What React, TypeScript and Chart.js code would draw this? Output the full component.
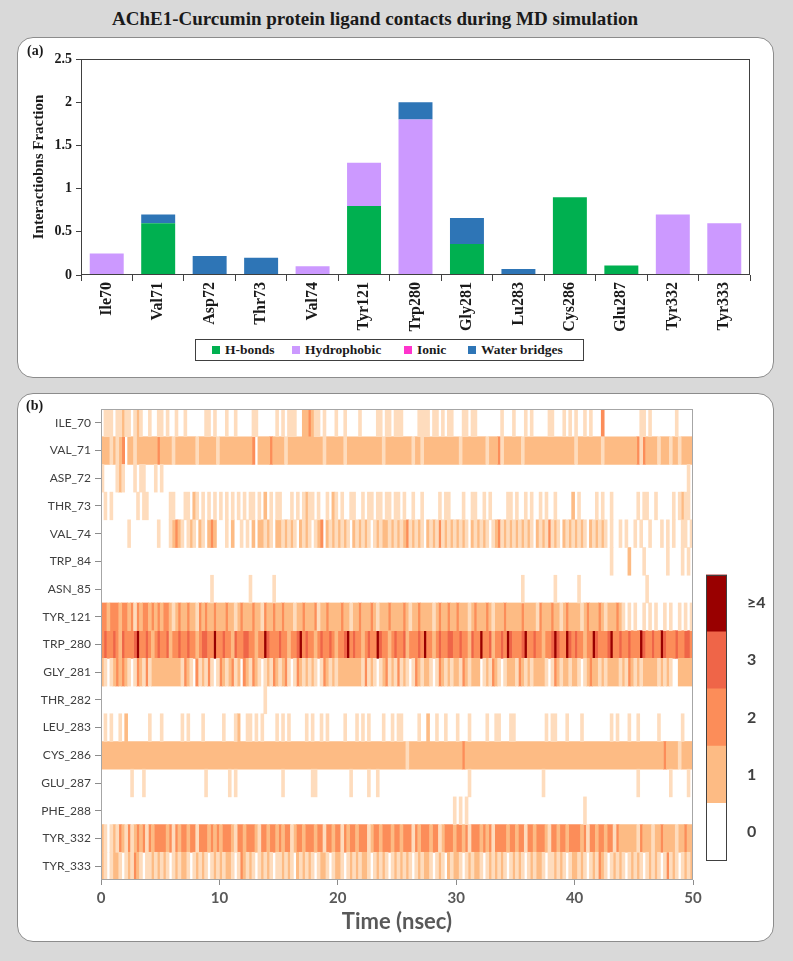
import React, { useEffect, useRef } from 'react';
import { Chart, registerables } from 'chart.js';

Chart.register(...registerables);

// ---------- Panel (a): stacked bar data ----------
const residues = ['Ile70', 'Val71', 'Asp72', 'Thr73', 'Val74', 'Tyr121', 'Trp280', 'Gly281', 'Lu283', 'Cys286', 'Glu287', 'Tyr332', 'Tyr333'];
const hBonds = [0, 0.6, 0, 0, 0, 0.8, 0, 0.36, 0, 0.9, 0.11, 0, 0];
const hydrophobic = [0.25, 0, 0, 0, 0.1, 0.5, 1.8, 0, 0, 0, 0, 0.7, 0.6];
const ionic = [0, 0, 0, 0, 0, 0, 0, 0, 0, 0, 0, 0, 0];
const waterBridges = [0, 0.1, 0.22, 0.2, 0, 0, 0.2, 0.3, 0.07, 0, 0, 0, 0];
const seriesNames = ['H-bonds', 'Hydrophobic', 'Ionic', 'Water bridges'];
const seriesColors = ['#00b050', '#cc99ff', '#ff33cc', '#2e75b6'];

// ---------- Panel (b): contact timeline (0.25 ns bins, 20 bins per chunk) ----------
// '0' none, 'p' faint single contact, '1'..'4' number of contacts
const contactRows = ['ILE_70', 'VAL_71', 'ASP_72', 'THR_73', 'VAL_74', 'TRP_84', 'ASN_85', 'TYR_121', 'TRP_280', 'GLY_281', 'THR_282', 'LEU_283', 'CYS_286', 'GLU_287', 'PHE_288', 'TYR_332', 'TYR_333'];
const EMPTY = '00000000000000000000';
const FULL = '11111111111111111111';
const ile70 = ['0ppp0pp1pp0p1p00p00p', 'p0p00p00p000000pp0p0', '00p00p00000pp000000p', '0p0ppp001121pp0p000p', '00p0000p00000pp0pp0p', 'pp00000pppp0pp0p0pp0', '00pp0pp00000000p000p', '000p0p00000pp000p0p0', 'p00p0p00020000000000', '00pp0p00000000p00000'];
const val71 = ['111p1p12011p11111112', '1111p1111111p111111p', '11111111111201111211', '11p111111111111p1111', '11p111111111111p1111', '11111p11p11111111111', '1p11111111p1112p1111', '11p11111111111111111', 'p11111111p1111111111', '12p21111p111p11p1111'];
const asp72 = ['p0000p1p000p0pp000p0', 'p0000000000000000000', EMPTY, EMPTY, EMPTY, EMPTY, EMPTY, EMPTY, EMPTY, '000000000000000000p0'];
const thr73 = ['0p0p00000000p0pp0000', '000pp000pp01p0p0p0p0', 'p0p0p0p0p0pp0p010p0p', 'p000p0p0p1pp0p00p01p', '0p00pp00p0pp0pp0pp0p', 'p0p00p00p00000p0pp00', '00p00pp00p0p00000pp0', 'p00p0p00p0p00p000001', '0p00000p0p00p0000000', '0p0pp00p00000p0p1pp0'];
const val74 = ['000000000p000000000p', '000p121p0p1p01p01210', '00p0100p0p01011p1p01', '1p1p1p01p1p0p1201p1p', '1p1p01p1p1p0p1p11p1p', '1p12p1p1p01p1p2p1p1p', '1p1p01p1p1p0p12p1p1p', '1p1p1p01p1p2p1p01p1p', '1p1p01p1p1p0p00p0p00', 'p0p00p000p0p0p00pp0p'];
const trp84 = [EMPTY, EMPTY, EMPTY, EMPTY, EMPTY, EMPTY, EMPTY, EMPTY, '000000000000p0000010', '000p0000000p0000p0p0'];
const asn85 = [EMPTY, '00000000000000000p00', '0000000000p0000000p0', EMPTY, EMPTY, EMPTY, EMPTY, '00p0000000000p000000', '0p000000000000000000', '0000p000000000000000'];
const tyr121 = ['22122212212p21221212', '1221p1211211p2121121', '11211p12111211p21121', '12111p1121112p112111', '1211p11211121p111211', '1121p1121111p1211211', '2111p1211121p1112111', '1121111p2111211p1211', '11p1211121p11121p0p0', 'p00p0p0p00p0p00p0p0p'];
const trp280 = ['23223213222342232123', '22312232232212332242', '23221322332212243222', '32212234232212322321', '22342322123224322123', '22312223242212322332', '23221322422312232432', '22342232212234322432', '32212243222342232232', '22432232243222322332'];
const gly281 = ['1p0p12121p0p21p2p111', '1111111p21p02p1p2p0p', '21p12p1021p21p0p1p21', 'p12p0p21p1p1p0p21p1p', '11111111p2p1p0p12p1p', '2p1p0p21p11p0p21p1p1', '1p21p1110p1p21p0p111', 'p21p1p1111p0p21p11p1', '1p0p1211p1p1111p1p21', 'p1p11111p1p1p0011111'];
const thr282 = [EMPTY, EMPTY, '000000000000000p0000', EMPTY, EMPTY, EMPTY, EMPTY, EMPTY, EMPTY, EMPTY];
const leu283 = ['0p0p00p010000000p000', 'p000000p0p0000p00000', '0p000p100pp0p0p0000p', '0p0p00000p0p00p0p000', '00p000p0p0p0000p00p0', 'pp00000p00100p00p000', 'p000p00000p00pp000pp', '0000000000p0pp000p00', '00p000000000p0p000p0', '0p000000p0000000p000'];
const cys286 = [FULL, FULL, FULL, FULL, FULL, '111p1111111111111111', '11211111111111111111', FULL, FULL, '111111111121111p1111'];
const glu287 = ['0000000000p000p00000', '000000000000000p0000', '000p0p00000000000000', '0p000000000pp0000000', '0000p00000p00p000000', EMPTY, '0000p000000000000000', '000000000p0000000000', EMPTY, '0p0000000000p00000p0'];
const phe288 = [EMPTY, EMPTY, EMPTY, EMPTY, EMPTY, '0000000000000000000p', '0p0p0000000000000000', EMPTY, '000p0000000000000000', EMPTY];
const tyr332 = ['1p0p1p21p2p1212p2122', '2212p2122122p2221212', '12221p2212221p221221', '2122p1221222122p2212', '2p21221222p122122212', '21222p21222122p12221', '2212p2221212p2222122', '122p2212221p22122122', '2212p22122122p211111', '1p2111p1121111p11211'];
const tyr333 = ['1p0p11p0p1p21p0pp1p1', 'p1p0p1p11p0p1p1p0p1p', '1p11p0p21p1p0p1p1p0p', 'p1p1p01p1p1p0p11p0p1', '1p0p1p1p11p0p1p1p0p1', 'p1p1p0p1p11p0p1p01p1', '1p0p1p11p0p1p1p1p0p1', 'p1p0p1p11p0pp1p1p0p1', '1p1p0p1p21p0p1p1p0p1', 'p1p0p1p1p0p2p1p0p1p1'];
const contactBins = [ile70, val71, asp72, thr73, val74, trp84, asn85, tyr121, trp280, gly281, thr282, leu283, cys286, glu287, phe288, tyr332, tyr333];
const binNs = 0.25;
const levelKeys = ['p', '1', '2', '3', '4'];
const levelColors = ['#fedcbd', '#fdbb84', '#fc8d59', '#ef6548', '#990000'];

// ---------- colour bar ----------
const colorbarLabels = ['0', '1', '2', '3', '≥4'];
const colorbarColors = ['#ffffff', '#fdbb84', '#fc8d59', '#ef6548', '#990000'];
const colorbarSpan = [1];

const SERIF = "'Liberation Serif', 'DejaVu Serif', serif";
const SANS = "Lato, 'Open Sans', sans-serif";

function buildSegments(level: string) {
  const out: { x: number[]; y: string }[] = [];
  contactRows.forEach((row, r) => {
    const s = contactBins[r].join('');
    let i = 0;
    while (i < s.length) {
      if (s[i] === level) {
        let j = i;
        while (j < s.length && s[j] === level) j++;
        out.push({ x: [i * binNs, j * binNs], y: row });
        i = j;
      } else i++;
    }
  });
  return out;
}

function framePlugin(id: string, color: string) {
  return {
    id,
    afterDatasetsDraw(chart: any) {
      const { ctx, chartArea: a } = chart;
      ctx.save();
      ctx.strokeStyle = color;
      ctx.lineWidth = 1;
      ctx.strokeRect(Math.round(a.left) + 0.5, Math.round(a.top) + 0.5, Math.round(a.right - a.left) - 1, Math.round(a.bottom - a.top) - 1);
      ctx.restore();
    },
  };
}

export default function App() {
  const refA = useRef<HTMLCanvasElement>(null);
  const refB = useRef<HTMLCanvasElement>(null);
  const refC = useRef<HTMLCanvasElement>(null);

  useEffect(() => {
    const seriesData = [hBonds, hydrophobic, ionic, waterBridges];
    const chartA = new Chart(refA.current as HTMLCanvasElement, {
      type: 'bar',
      data: {
        labels: residues,
        datasets: seriesNames.map((name, i) => ({
          label: name,
          data: seriesData[i],
          backgroundColor: seriesColors[i],
          borderWidth: 0,
          barPercentage: 0.66,
          categoryPercentage: 1,
        })),
      },
      options: {
        animation: false,
        responsive: false,
        layout: { padding: { top: 22, right: 24, left: 0, bottom: 0 } },
        plugins: { legend: { display: false }, tooltip: { enabled: false } },
        scales: {
          x: {
            stacked: true,
            grid: { drawOnChartArea: false, drawTicks: true, tickLength: 6, color: '#404040', offset: true },
            border: { display: false },
            ticks: { minRotation: 90, maxRotation: 90, autoSkip: false, padding: 1, color: '#1a1a1a', font: { family: SERIF, weight: 'bold', size: 16 } },
            afterFit: (s: any) => { s.height = 103; },
          },
          y: {
            stacked: true,
            min: 0,
            max: 2.5,
            ticks: { stepSize: 0.5, padding: 4, color: '#1a1a1a', font: { family: SERIF, weight: 'bold', size: 14 }, callback: (v: any) => String(v) },
            grid: { drawOnChartArea: false, tickLength: 5, color: '#404040' },
            border: { display: false },
            title: { display: true, text: 'Interactiobns Fraction', color: '#1a1a1a', font: { family: SERIF, weight: 'bold', size: 15 }, padding: { top: 13, bottom: 0 } },
            afterFit: (s: any) => { s.width = 64; },
          },
        },
      } as any,
      plugins: [framePlugin('frameA', '#404040')],
    });

    const chartB = new Chart(refB.current as HTMLCanvasElement, {
      type: 'bar',
      data: {
        labels: contactRows,
        datasets: levelKeys.map((k, i) => ({
          label: k,
          data: buildSegments(k) as any,
          backgroundColor: levelColors[i],
          borderWidth: 0,
          grouped: false,
          barPercentage: 1,
          categoryPercentage: 1,
        })),
      },
      options: {
        indexAxis: 'y',
        animation: false,
        responsive: false,
        layout: { padding: { top: 16, right: 81, left: 0, bottom: 0 } },
        plugins: { legend: { display: false }, tooltip: { enabled: false } },
        scales: {
          x: {
            type: 'linear',
            min: 0,
            max: 50,
            ticks: { stepSize: 10, padding: 4, color: '#595959', font: { family: SANS, weight: 'bold', size: 15 } },
            grid: { drawOnChartArea: false, tickLength: 5, color: '#8c8c8c' },
            border: { display: false },
            title: { display: true, text: 'Time (nsec)', color: '#595959', font: { family: SANS, weight: 'bold', size: 22 }, padding: { top: 0, bottom: 7 } },
            afterFit: (s: any) => { s.height = 62; },
          },
          y: {
            type: 'category',
            offset: true,
            grid: { drawOnChartArea: false, offset: false, tickLength: 6, color: '#8c8c8c' },
            border: { display: false },
            ticks: { padding: 4, autoSkip: false, color: '#404040', font: { family: SANS, size: 12 } },
            afterFit: (s: any) => { s.width = 84; },
          },
        },
      } as any,
      plugins: [framePlugin('frameB', '#a6a6a6')],
    });

    const chartC = new Chart(refC.current as HTMLCanvasElement, {
      type: 'bar',
      data: {
        labels: [''],
        datasets: colorbarColors.map((c, i) => ({
          label: colorbarLabels[i],
          data: colorbarSpan,
          backgroundColor: c,
          borderWidth: 0,
          barPercentage: 1,
          categoryPercentage: 1,
        })),
      },
      options: {
        animation: false,
        responsive: false,
        layout: { padding: { left: 6, top: 10, bottom: 10, right: 0 } },
        plugins: { legend: { display: false }, tooltip: { enabled: false } },
        scales: {
          x: { display: false, stacked: true },
          y: {
            stacked: true,
            position: 'right',
            min: 0,
            max: 5,
            afterBuildTicks: (s: any) => { s.ticks = colorbarLabels.map((_, i) => ({ value: i + 0.5 })); },
            ticks: { padding: 20, color: '#404040', font: { family: SANS, weight: 'bold', size: 16 }, callback: (_v: any, i: number) => colorbarLabels[i] },
            grid: { display: false, drawTicks: false },
            border: { display: false },
            afterFit: (s: any) => { s.width = 43; },
          },
        },
      } as any,
      plugins: [framePlugin('frameC', '#404040')],
    });

    return () => {
      chartA.destroy();
      chartB.destroy();
      chartC.destroy();
    };
  }, []);

  const panel: React.CSSProperties = {
    position: 'absolute',
    left: 17,
    width: 757,
    background: '#ffffff',
    border: '1px solid #8c8c8c',
    borderRadius: 16,
    boxSizing: 'border-box',
  };
  const legendOffsets = [17, 97, 209, 273];

  return (
    <div style={{ position: 'absolute', left: 0, top: 0, width: 793, height: 961, background: '#d9d9d9', overflow: 'hidden' }}>
      <div style={{ position: 'absolute', left: 0, top: 8, width: 750, textAlign: 'center', fontFamily: SERIF, fontWeight: 'bold', fontSize: 19, lineHeight: '22px', color: '#1a1a1a' }}>
        AChE1-Curcumin protein ligand contacts during MD simulation
      </div>

      <div style={{ ...panel, top: 37, height: 341 }} />
      <canvas ref={refA} width={757} height={341} style={{ position: 'absolute', left: 17, top: 37, width: 757, height: 341 }} />
      <div style={{ position: 'absolute', left: 27, top: 43, fontFamily: SERIF, fontWeight: 'bold', fontSize: 14, color: '#1a1a1a' }}>(a)</div>
      <div style={{ position: 'absolute', left: 195, top: 339, width: 389, height: 22, boxSizing: 'border-box', border: '1px solid #404040', background: '#fff' }}>
        {seriesNames.map((name, i) => (
          <div key={name} style={{ position: 'absolute', left: legendOffsets[i] - 1, top: 0, height: 20, display: 'flex', alignItems: 'center', fontFamily: SERIF, fontWeight: 'bold', fontSize: 13.5, color: '#1a1a1a', whiteSpace: 'nowrap' }}>
            <span style={{ display: 'inline-block', width: 8, height: 8, background: seriesColors[i], marginRight: 5 }} />
            {name}
          </div>
        ))}
      </div>

      <div style={{ ...panel, top: 393, height: 549 }} />
      <canvas ref={refB} width={757} height={549} style={{ position: 'absolute', left: 17, top: 393, width: 757, height: 549 }} />
      <canvas ref={refC} width={70} height={345} style={{ position: 'absolute', left: 700, top: 545, width: 70, height: 345 }} />
      <div style={{ position: 'absolute', left: 26, top: 398, fontFamily: SERIF, fontWeight: 'bold', fontSize: 14, color: '#1a1a1a' }}>(b)</div>
    </div>
  );
}
